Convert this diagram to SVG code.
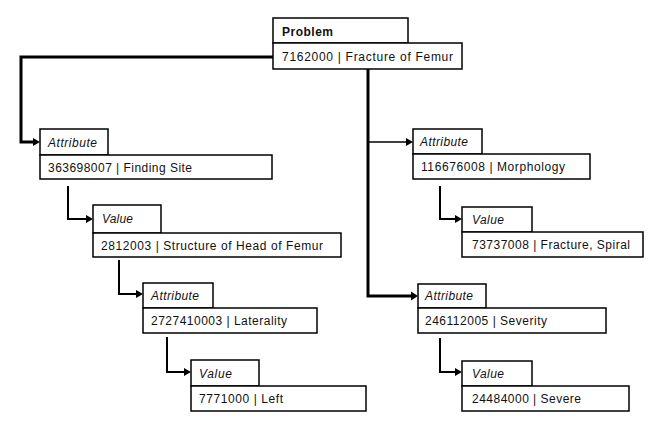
<svg xmlns="http://www.w3.org/2000/svg" width="663" height="422" viewBox="0 0 663 422">
<style>
.box{fill:#fff;stroke:#000;stroke-width:1.5}
.t{font-family:"Liberation Sans",Arial,sans-serif;font-size:12px;fill:#111}
.i{font-style:italic}
.b{font-weight:bold}
.c{fill:none;stroke:#000;stroke-linejoin:miter}
.k{stroke-width:3}
.m{stroke-width:2}
.n{stroke-width:1.3}
.ah{fill:#000}
</style>
<rect width="663" height="422" fill="#fff"/>
<g id="connectors">
<path class="c k" d="M273,57 H21 V142 H34"/>
<path class="c k" d="M368,69 V296 H412"/>
<path class="c n" d="M368,142 H407"/>
<path class="c m" d="M68,186 V219 H87"/>
<path class="c m" d="M119,260 V294 H137"/>
<path class="c m" d="M167,337 V372 H185"/>
<path class="c m" d="M440,186 V219 H456"/>
<path class="c m" d="M440,338 V372 H456"/>
<path class="ah" d="M33,138 L40,142 L33,146 Z"/>
<path class="ah" d="M406,138 L413,142 L406,146 Z"/>
<path class="ah" d="M411,291.5 L418,296 L411,300.5 Z"/>
<path class="ah" d="M86,215 L93,219 L86,223 Z"/>
<path class="ah" d="M136,290 L143,294 L136,298 Z"/>
<path class="ah" d="M184,368 L191,372 L184,376 Z"/>
<path class="ah" d="M455,215 L462,219 L455,223 Z"/>
<path class="ah" d="M455,368 L462,372 L455,376 Z"/>
</g>
<g id="problem">
<rect class="box" x="273" y="18" width="135" height="25"/>
<rect class="box" x="273" y="43" width="189" height="26"/>
<text class="t b" x="282" y="35.5" textLength="51" lengthAdjust="spacing">Problem</text>
<text class="t" x="282" y="61" textLength="171" lengthAdjust="spacing">7162000 | Fracture of Femur</text>
</g>
<g id="attr-finding-site">
<rect class="box" x="40" y="129" width="68" height="26"/>
<rect class="box" x="40" y="155" width="232" height="24"/>
<text class="t i" x="48" y="146.5" textLength="49" lengthAdjust="spacing">Attribute</text>
<text class="t" x="48" y="171.5" textLength="144" lengthAdjust="spacing">363698007 | Finding Site</text>
</g>
<g id="value-head-of-femur">
<rect class="box" x="93" y="205" width="68" height="28"/>
<rect class="box" x="93" y="233" width="248" height="24"/>
<text class="t i" x="102" y="223" textLength="31" lengthAdjust="spacing">Value</text>
<text class="t" x="101" y="249.5" textLength="222" lengthAdjust="spacing">2812003 | Structure of Head of Femur</text>
</g>
<g id="attr-laterality">
<rect class="box" x="143" y="283" width="70" height="25"/>
<rect class="box" x="143" y="308" width="174" height="25"/>
<text class="t i" x="151" y="300" textLength="48" lengthAdjust="spacing">Attribute</text>
<text class="t" x="151" y="325" textLength="136" lengthAdjust="spacing">2727410003 | Laterality</text>
</g>
<g id="value-left">
<rect class="box" x="191" y="360" width="68" height="26"/>
<rect class="box" x="191" y="386" width="175" height="25"/>
<text class="t i" x="199" y="378" textLength="33" lengthAdjust="spacing">Value</text>
<text class="t" x="199" y="403" textLength="84" lengthAdjust="spacing">7771000 | Left</text>
</g>
<g id="attr-morphology">
<rect class="box" x="413" y="129" width="69" height="25"/>
<rect class="box" x="413" y="154" width="177" height="25"/>
<text class="t i" x="420" y="146" textLength="48" lengthAdjust="spacing">Attribute</text>
<text class="t" x="421" y="171" textLength="144" lengthAdjust="spacing">116676008 | Morphology</text>
</g>
<g id="value-spiral">
<rect class="box" x="462" y="207" width="70" height="25"/>
<rect class="box" x="462" y="232" width="181" height="25"/>
<text class="t i" x="472" y="224" textLength="32" lengthAdjust="spacing">Value</text>
<text class="t" x="472" y="249" textLength="158" lengthAdjust="spacing">73737008 | Fracture, Spiral</text>
</g>
<g id="attr-severity">
<rect class="box" x="418" y="284" width="68" height="24"/>
<rect class="box" x="418" y="308" width="188" height="25"/>
<text class="t i" x="425" y="300" textLength="48" lengthAdjust="spacing">Attribute</text>
<text class="t" x="425" y="325" textLength="122" lengthAdjust="spacing">246112005 | Severity</text>
</g>
<g id="value-severe">
<rect class="box" x="462" y="361" width="70" height="25"/>
<rect class="box" x="462" y="386" width="167" height="25"/>
<text class="t i" x="472" y="378" textLength="32" lengthAdjust="spacing">Value</text>
<text class="t" x="472" y="403" textLength="109" lengthAdjust="spacing">24484000 | Severe</text>
</g>
</svg>
